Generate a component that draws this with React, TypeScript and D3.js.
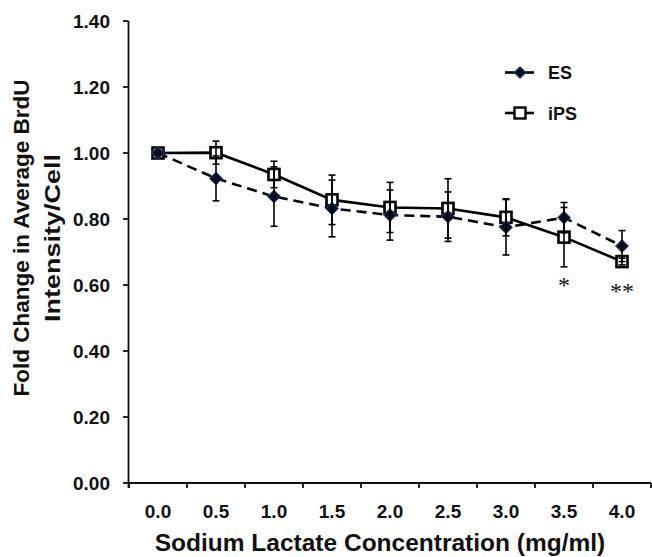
import React from "react";
import * as d3 from "d3";

const categories = ["0.0", "0.5", "1.0", "1.5", "2.0", "2.5", "3.0", "3.5", "4.0"];
const esValues = [1.0, 0.923, 0.868, 0.832, 0.812, 0.807, 0.775, 0.804, 0.718];
const esErrors = [0, 0.068, 0.09, 0.086, 0.076, 0.075, 0.084, 0.046, 0.047];
const ipsValues = [1.0, 1.001, 0.935, 0.858, 0.835, 0.832, 0.805, 0.745, 0.671];
const ipsErrors = [0, 0.035, 0.04, 0.075, 0.076, 0.09, 0.056, 0.09, 0.01];
const yTicks = [0, 0.2, 0.4, 0.6, 0.8, 1.0, 1.2, 1.4];
const significance = [
  { cat: "3.5", label: "*" },
  { cat: "4.0", label: "**" },
];
const seriesNames = ["ES", "iPS"];

const W = 652;
const H = 557;
const FONT = "Arial, 'Liberation Sans', Helvetica, sans-serif";

export default function App() {
  const x = d3.scaleBand<string>().domain(categories).range([129, 651]).padding(0);
  const y = d3.scaleLinear().domain([0, 1.4]).range([483, 21]);
  const cx = (c: string) => (x(c) as number) + x.bandwidth() / 2;

  const line = d3
    .line<number>()
    .x((_, i) => cx(categories[i]))
    .y((d) => y(d));

  const boundaries = d3.range(categories.length + 1).map((i) => 129 + i * x.bandwidth());
  const axisColor = "#111";
  const cap = 3.5;

  const diamond = (px: number, py: number, r: number) =>
    `M${px},${py - r}L${px + r},${py}L${px},${py + r}L${px - r},${py}Z`;

  const errBars = (vals: number[], errs: number[], key: string) =>
    vals.map((v, i) => {
      const e = errs[i];
      if (!e) return null;
      const px = cx(categories[i]);
      const y1 = y(v + e);
      const y2 = y(v - e);
      return (
        <g key={key + i} stroke="#000" strokeWidth={1.6}>
          <line x1={px} x2={px} y1={y1} y2={y2} />
          <line x1={px - cap} x2={px + cap} y1={y1} y2={y1} />
          <line x1={px - cap} x2={px + cap} y1={y2} y2={y2} />
        </g>
      );
    });

  return (
    <svg
      width={W}
      height={H}
      style={{ position: "absolute", left: 0, top: 0, background: "#fff" }}
      fontFamily={FONT}
    >
      <rect x={0} y={0} width={W} height={H} fill="#fff" />
      {/* Y axis */}
      <line x1={128.5} x2={128.5} y1={y(1.4)} y2={y(0) + 5} stroke={axisColor} strokeWidth={1.8} />
      {yTicks.map((t) => (
        <g key={"yt" + t}>
          <line x1={123} x2={128.5} y1={y(t)} y2={y(t)} stroke={axisColor} strokeWidth={1.8} />
          <text
            x={110}
            y={y(t)}
            dy="0.36em"
            textAnchor="end"
            fontSize={19}
            fontWeight="bold"
            fill="#111"
          >
            {t.toFixed(2)}
          </text>
        </g>
      ))}
      {/* X axis */}
      <line x1={128} x2={651} y1={483} y2={483} stroke={axisColor} strokeWidth={1.8} />
      {boundaries.map((b, i) => (
        <line key={"xt" + i} x1={b} x2={b} y1={483} y2={488} stroke={axisColor} strokeWidth={1.8} />
      ))}
      {categories.map((c) => (
        <text
          key={"xl" + c}
          x={cx(c)}
          y={518}
          textAnchor="middle"
          fontSize={19}
          fontWeight="bold"
          fill="#111"
        >
          {c}
        </text>
      ))}
      {/* Axis titles */}
      <text x={380} y={551} textAnchor="middle" fontSize={24.5} fontWeight="bold" fill="#111">
        Sodium Lactate Concentration (mg/ml)
      </text>
      <g transform="translate(29,238) rotate(-90)">
        <text x={0} y={0} textAnchor="middle" fontSize={22.5} fontWeight="bold" fill="#111">
          Fold Change in Average BrdU
        </text>
        <text
          x={0}
          y={31}
          textAnchor="middle"
          fontSize={22.5}
          fontWeight="bold"
          fill="#111"
          textLength={168}
          lengthAdjust="spacingAndGlyphs"
        >
          Intensity/Cell
        </text>
      </g>

      {/* iPS series */}
      <path d={line(ipsValues) || ""} fill="none" stroke="#000" strokeWidth={2.6} />
      {/* ES series */}
      <path
        d={line(esValues) || ""}
        fill="none"
        stroke="#000"
        strokeWidth={2.6}
        strokeDasharray="10,6"
      />
      {ipsValues.map((v, i) => (
        <rect
          key={"ipsm" + i}
          x={cx(categories[i]) - 5.5}
          y={y(v) - 5.5}
          width={11}
          height={11}
          fill="#fff"
          stroke="#000"
          strokeWidth={2.6}
        />
      ))}
      {esValues.map((v, i) => (
        <path
          key={"esm" + i}
          d={diamond(cx(categories[i]), y(v), 6.5)}
          fill="#0b1026"
          stroke="#1f4f8f"
          strokeWidth={1}
        />
      ))}
      {errBars(ipsValues, ipsErrors, "ipse")}
      {errBars(esValues, esErrors, "ese")}

      {/* significance */}
      {significance.map((s) => (
        <text
          key={"sig" + s.cat}
          x={cx(s.cat)}
          y={s.label === "*" ? 293 : 299}
          textAnchor="middle"
          fontSize={24}
          fill="#111"
          fontFamily="'Liberation Serif', 'Times New Roman', serif"
        >
          {s.label}
        </text>
      ))}

      {/* Legend */}
      <g>
        <line x1={505} x2={534} y1={72.5} y2={72.5} stroke="#000" strokeWidth={2.6} />
        <path d={diamond(520, 72.5, 6)} fill="#0b1026" stroke="#1f4f8f" strokeWidth={1} />
        <text x={548} y={79} fontSize={18} fontWeight="bold" fill="#111">
          {seriesNames[0]}
        </text>
        <line x1={505} x2={534} y1={113} y2={113} stroke="#000" strokeWidth={2.6} />
        <rect x={514.5} y={107.5} width={11} height={11} fill="#fff" stroke="#000" strokeWidth={2.4} />
        <text x={548} y={120} fontSize={18} fontWeight="bold" fill="#111">
          {seriesNames[1]}
        </text>
      </g>
    </svg>
  );
}
